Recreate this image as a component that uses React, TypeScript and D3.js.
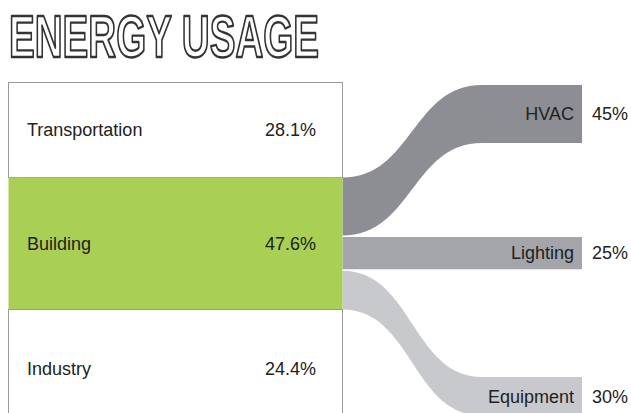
import React from 'react';
import * as d3 from 'd3';

// chart data
const sectors = ['Transportation', 'Building', 'Industry'];
const sectorShares = [28.1, 47.6, 24.4];
const uses = ['HVAC', 'Lighting', 'Equipment'];
const useShares = [45, 25, 30];

const WIDTH = 631;
const HEIGHT = 413;
const boxLeft = 8.5;
const boxRight = 342.5;
const boxTop = 82.5;
const rowHeights = [95, 132, 118]; // layout of the left table
const flowGap = 1.5;
const flowEnd = 482; // where the curves end
const nodeRight = 582;
const targetTops = [85, null, 377]; // null = straight across

const sectorFill = ['#ffffff', '#a9cf54', '#ffffff'];
const useColors = ['#8d8e93', '#a3a5aa', '#c8c9cd'];
const textColor = '#222222';
const font = '"Liberation Sans", Arial, sans-serif';

export default function App() {
  // left column rows
  const rows = sectors.map((name, i) => {
    const y0 = boxTop + d3.sum(rowHeights.slice(0, i));
    return { name, value: sectorShares[i], y0, y1: y0 + rowHeights[i] };
  });
  const building = rows[1];

  // flow thickness scale: the building row is split into the three uses
  const flowScale = d3.scaleLinear()
    .domain([0, d3.sum(useShares)])
    .range([0, building.y1 - building.y0 - flowGap * (uses.length - 1)]);

  let cursor = building.y0;
  const flows = uses.map((name, i) => {
    const t = flowScale(useShares[i]);
    const s = cursor;
    cursor += t + flowGap;
    const tt = targetTops[i] == null ? s : (targetTops[i] as number);
    return { name, value: useShares[i], s, tt, t, color: useColors[i] };
  });

  const link = d3.linkHorizontal<any, [number, number]>()
    .source(d => d[0])
    .target(d => d[1]);

  const flowPath = (f: any) => {
    const top = link([[boxRight, f.s], [flowEnd, f.tt]] as any) as string;
    const bottom = link([[flowEnd, f.tt + f.t], [boxRight, f.s + f.t]] as any) as string;
    return top + ' L' + nodeRight + ',' + f.tt + ' L' + nodeRight + ',' + (f.tt + f.t) +
      ' L' + flowEnd + ',' + (f.tt + f.t) + bottom.replace(/^M[^C]*/, ' L' + flowEnd + ',' + (f.tt + f.t) + ' ') + ' Z';
  };

  const pct = d3.format('.1f');

  return (
    <svg width={WIDTH} height={HEIGHT} style={{ position: 'absolute', left: 0, top: 0, background: '#fff' }}>
      <text x={9} y={57} fontFamily='"Liberation Sans", Arial, sans-serif'
        fontWeight="bold" fontSize={60} fill="#fff" stroke="#333" strokeWidth={2.4}
        strokeLinejoin="round" textLength={310} lengthAdjust="spacingAndGlyphs">ENERGY USAGE</text>

      {flows.map(f => (
        <path key={f.name} d={flowPath(f)} fill={f.color} />
      ))}

      {rows.map((r, i) => (
        <g key={r.name}>
          <rect x={boxLeft} y={r.y0} width={boxRight - boxLeft} height={r.y1 - r.y0}
            fill={sectorFill[i]} stroke={i === 1 ? 'none' : '#9a9a9a'} strokeWidth={1} />
          <text x={27} y={(r.y0 + r.y1) / 2} dy="0.35em" fontFamily={font} fontSize={18} fill={textColor}>{r.name}</text>
          <text x={316} y={(r.y0 + r.y1) / 2} dy="0.35em" textAnchor="end" fontFamily={font} fontSize={18} fill={textColor}>{pct(r.value)}%</text>
        </g>
      ))}

      {flows.map(f => (
        <g key={f.name + '-l'}>
          <text x={nodeRight - 8} y={f.tt + f.t / 2} dy="0.35em" textAnchor="end" fontFamily={font} fontSize={18} fill={textColor}>{f.name}</text>
          <text x={592} y={f.tt + f.t / 2} dy="0.35em" fontFamily={font} fontSize={18} fill={textColor}>{f.value}%</text>
        </g>
      ))}
    </svg>
  );
}
